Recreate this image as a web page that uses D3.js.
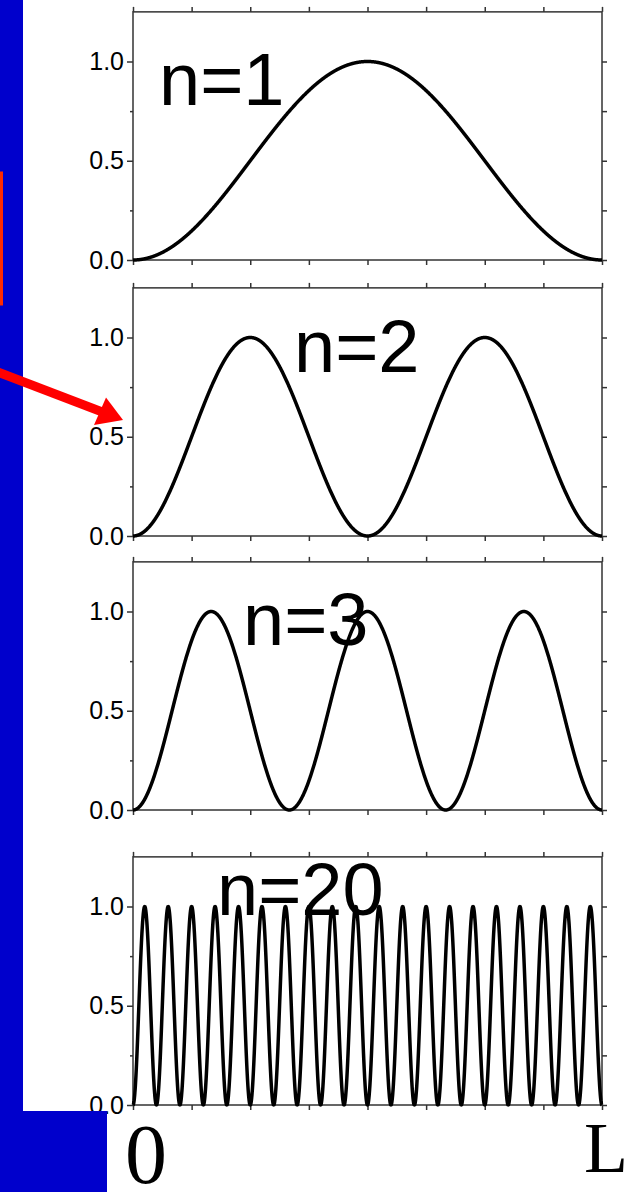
<!DOCTYPE html>
<html>
<head>
<meta charset="utf-8">
<script src="https://cdn.jsdelivr.net/npm/d3@7"></script>
<style>
  html, body { margin: 0; padding: 0; background: #fff; }
  svg { display: block; }
</style>
</head>
<body>
<svg id="chart" width="635" height="1192"></svg>
<script>
// ---- data ----
const modes = [1, 2, 3, 20];                 // quantum number n of each panel
const modeLabels = ["n=1", "n=2", "n=3", "n=20"];
const yMajorTicks = [0, 0.5, 1.0];
const yMinorTicks = [0.25, 0.75];
const yRightTicks = [0, 0.25, 0.5, 0.75, 1.0];
const xTicks = [0, 0.125, 0.25, 0.375, 0.5, 0.625, 0.75, 0.875, 1];
const xEndLabels = ["0", "L"];
const yDomain = [0, 1.25];

// ---- layout ----
const W = 635, H = 1192;
const plotLeft = 133, plotRight = 602;
const panelBottoms = [260, 536, 810, 1105];
const unitPx = 198.5;
const labelPos = [[159, 105], [294, 372], [243, 645], [217, 915]];

const svg = d3.select("#chart");
const x = d3.scaleLinear().domain([0, 1]).range([plotLeft, plotRight]);

// probability density |psi_n(x)|^2 (normalised to peak 1)
const samples = d3.range(0, 2001).map(i => i / 2000);

modes.forEach((n, i) => {
  const b = panelBottoms[i];
  const y = d3.scaleLinear().domain(yDomain).range([b, b - yDomain[1] * unitPx]);
  const g = svg.append("g");

  g.append("rect")
    .attr("x", x(0)).attr("y", y(yDomain[1]))
    .attr("width", x(1) - x(0)).attr("height", y(0) - y(yDomain[1]))
    .attr("fill", "none").attr("stroke", "#333").attr("stroke-width", 1.5);

  const style = sel => {
    sel.select(".domain").remove();
    sel.selectAll(".tick line").attr("stroke", "#333").attr("stroke-width", 1.5);
  };

  g.append("g").attr("transform", `translate(${x(0)},0)`)
    .call(d3.axisLeft(y).tickValues(yMajorTicks).tickSize(6).tickPadding(3)
      .tickFormat(d3.format(".1f")))
    .call(style)
    .call(s => s.selectAll("text")
      .attr("font-family", "'Liberation Sans', Arial, sans-serif")
      .attr("font-size", 25).attr("fill", "#000"));
  g.append("g").attr("transform", `translate(${x(0)},0)`)
    .call(d3.axisLeft(y).tickValues(yMinorTicks).tickSize(3).tickFormat(""))
    .call(style);
  g.append("g").attr("transform", `translate(${x(1)},0)`)
    .call(d3.axisRight(y).tickValues(yRightTicks).tickSize(5).tickFormat(""))
    .call(style);
  g.append("g").attr("transform", `translate(0,${y(yDomain[1])})`)
    .call(d3.axisTop(x).tickValues(xTicks).tickSize(5).tickFormat(""))
    .call(style);
  g.append("g").attr("transform", `translate(0,${y(0)})`)
    .call(d3.axisBottom(x).tickValues(xTicks).tickSize(5).tickFormat(""))
    .call(style);

  const line = d3.line()
    .x(d => x(d))
    .y(d => y(Math.pow(Math.sin(n * Math.PI * d), 2)));
  g.append("path").datum(samples)
    .attr("d", line)
    .attr("fill", "none").attr("stroke", "#000")
    .attr("stroke-width", 3.5).attr("stroke-linejoin", "round");

  g.append("text")
    .attr("x", labelPos[i][0]).attr("y", labelPos[i][1])
    .attr("font-family", "'Liberation Sans', Arial, sans-serif")
    .attr("font-size", 74).attr("fill", "#000")
    .text(modeLabels[i]);
});

// ---- slide decorations ----
svg.append("rect").attr("x", 0).attr("y", 0).attr("width", 23).attr("height", 1111).attr("fill", "#0000cc");
svg.append("rect").attr("x", 0).attr("y", 1111).attr("width", 107).attr("height", H - 1111).attr("fill", "#0000cc");
svg.append("rect").attr("x", -100).attr("y", 173).attr("width", 101.5).attr("height", 131)
  .attr("fill", "none").attr("stroke", "#ff2a00").attr("stroke-width", 3);

svg.append("line").attr("x1", -5).attr("y1", 371).attr("x2", 101).attr("y2", 411.5)
  .attr("stroke", "#ff0000").attr("stroke-width", 9);
svg.append("polygon").attr("points", "123,420 94,425 106,397.5")
  .attr("fill", "#ff0000");

svg.append("text").attr("x", 146).attr("y", 1183).attr("text-anchor", "middle")
  .attr("font-family", "'Liberation Serif', 'Times New Roman', serif")
  .attr("font-size", 84).attr("fill", "#000").text(xEndLabels[0]);
svg.append("text").attr("x", 584).attr("y", 1172)
  .attr("font-family", "'Liberation Serif', 'Times New Roman', serif")
  .attr("font-size", 72).attr("fill", "#000").text(xEndLabels[1]);
</script>
</body>
</html>
